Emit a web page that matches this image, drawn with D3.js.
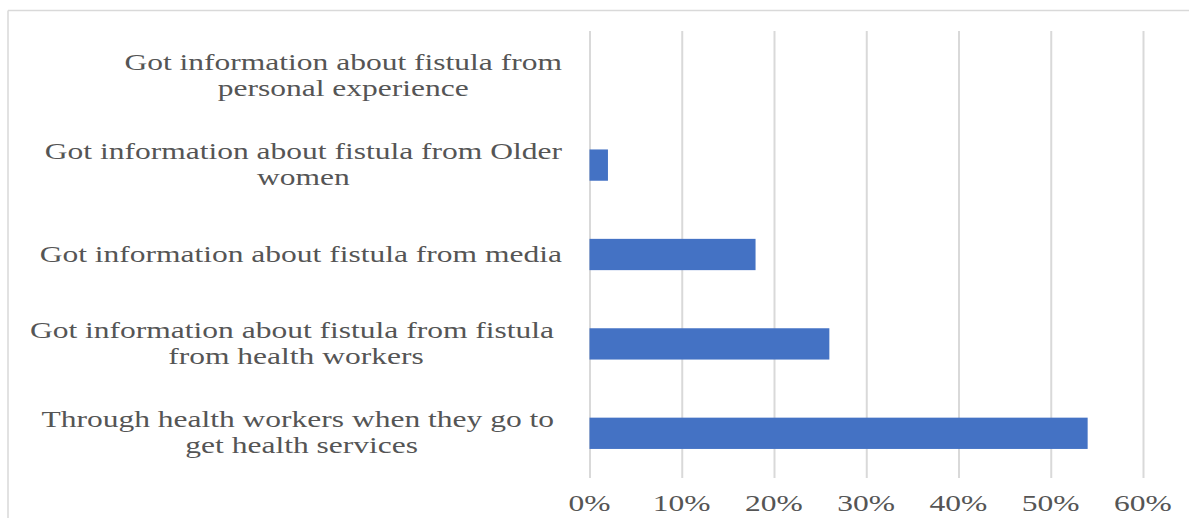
<!DOCTYPE html>
<html>
<head>
<meta charset="utf-8">
<script src="https://cdn.jsdelivr.net/npm/d3@7/dist/d3.min.js"></script>
<style>
  html, body { margin: 0; padding: 0; background: #fff; }
  svg { display: block; }
  text { white-space: pre; }
</style>
</head>
<body>
<svg id="chart" width="1189" height="518"></svg>
<script>
// ---- Data ----
const categories = [
  "Got information about fistula from\npersonal experience",
  "Got information about fistula from Older\nwomen",
  "Got information about fistula from media",
  "Got information about fistula from fistula \nfrom health workers",
  "Through health workers when they go to \nget health services"
];
const values = [0.00, 0.02, 0.18, 0.26, 0.54];
const tickValues = [0, 0.1, 0.2, 0.3, 0.4, 0.5, 0.6];
const tickLabels = ["0%", "10%", "20%", "30%", "40%", "50%", "60%"];

// ---- Layout ----
const W = 1189, H = 518;
const plot = { left: 589.5, right: 1143, top: 31, bottom: 478 };
const textColor = "#555555";
const gridColor = "#d9d9d9";
const barColor = "#4472C4";
const fontFamily = "'Liberation Serif', 'Times New Roman', serif";
const fontSize = 23;
const stretch = 1.37;

const svg = d3.select("#chart");

// outer border (chart area frame)
svg.append("line").attr("x1", 8).attr("x2", W + 5).attr("y1", 10.5).attr("y2", 10.5)
  .attr("stroke", gridColor).attr("stroke-width", 1.5);
svg.append("line").attr("x1", 8).attr("x2", 8).attr("y1", 10.5).attr("y2", H + 5)
  .attr("stroke", gridColor).attr("stroke-width", 1.5);

const x = d3.scaleLinear().domain([0, 0.6]).range([plot.left, plot.right]);
const y = d3.scaleBand().domain(categories)
  .range([plot.top, plot.bottom]).paddingInner(0.65).paddingOuter(0.325);

// gridlines via axis
const grid = svg.append("g")
  .attr("transform", `translate(0,${plot.bottom})`)
  .call(d3.axisBottom(x).tickValues(tickValues).tickSize(-(plot.bottom - plot.top)).tickFormat(""));
grid.select(".domain").remove();
grid.selectAll(".tick line").attr("stroke", gridColor).attr("stroke-width", 2);

// bars
svg.append("g").selectAll("rect")
  .data(categories.map((c, i) => ({ c, v: values[i] })))
  .join("rect")
  .attr("x", x(0))
  .attr("y", d => y(d.c))
  .attr("width", d => Math.max(0, x(d.v) - x(0)))
  .attr("height", y.bandwidth())
  .attr("fill", barColor);

// tick labels
const tl = svg.append("g");
tickValues.forEach((t, i) => {
  tl.append("text")
    .attr("transform", `translate(${x(t)},511) scale(${stretch},1)`)
    .attr("text-anchor", "middle")
    .attr("font-family", fontFamily)
    .attr("font-size", fontSize)
    .attr("fill", textColor)
    .text(tickLabels[i]);
});

// category labels (right-aligned block, centred lines)
const labelRight = 562;
const lineH = 26;
categories.forEach(c => {
  const lines = c.split("\n");
  const g = svg.append("g");
  const cy = y(c) + y.bandwidth() / 2;
  const texts = lines.map((ln, i) => g.append("text")
    .attr("font-family", fontFamily)
    .attr("font-size", fontSize)
    .attr("fill", textColor)
    .attr("text-anchor", "middle")
    .text(ln));
  const maxW = d3.max(texts, t => t.node().getComputedTextLength()) * stretch;
  const cx = labelRight - maxW / 2;
  texts.forEach((t, i) => {
    const by = cy + (i - (lines.length - 1) / 2) * lineH + 7;
    t.attr("transform", `translate(${cx},${by}) scale(${stretch},1)`);
  });
});
</script>
</body>
</html>
